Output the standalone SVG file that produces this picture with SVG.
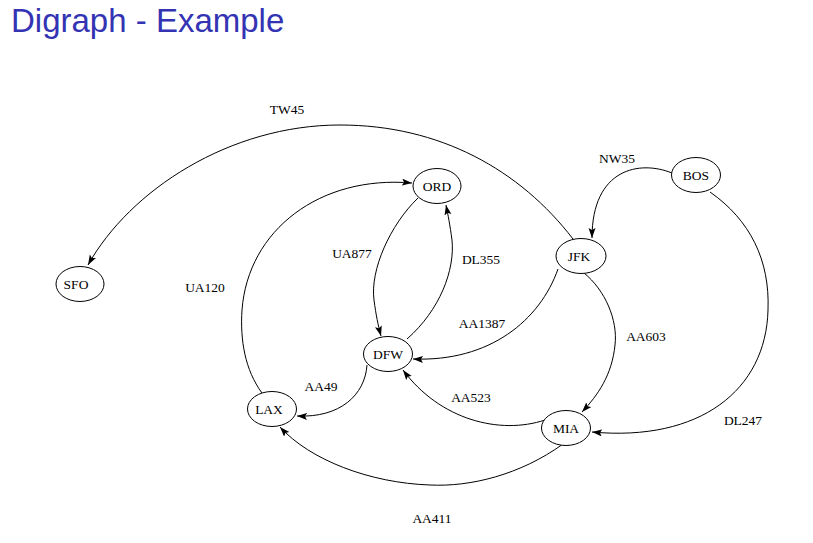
<svg xmlns="http://www.w3.org/2000/svg" width="813" height="543" viewBox="0 0 813 543">
<style>
.node ellipse{fill:#fff;stroke:#000;stroke-width:1}
.lbl{font-family:"Liberation Serif","Times New Roman",serif;font-size:13.5px;fill:#000;text-anchor:middle}
.edge{fill:none;stroke:#000;stroke-width:1;marker-end:url(#arr)}
.title{font-family:"Liberation Sans",Arial,sans-serif;font-size:33px;fill:#3333b3}
</style>
<defs>
<marker id="arr" markerUnits="userSpaceOnUse" markerWidth="11" markerHeight="8" refX="10" refY="3.5" orient="auto">
<path d="M0,0 L10,3.5 L0,7 L2,3.5 z" fill="#000"/>
</marker>
</defs>
<rect width="813" height="543" fill="#fff"/>
<text class="title" x="11" y="32">Digraph - Example</text>
<g id="connectors">
<path id="e-TW45" class="edge" d="M573,239 C520,170 440,125 340,125 C230,125 130,190 88,265"/>
<path id="e-NW35" class="edge" d="M672,173 C640,160 592,168 592,238"/>
<path id="e-DL247" class="edge" d="M710,192 C750,220 770,260 768,310 C766,390 700,442 592,432"/>
<path id="e-AA603" class="edge" d="M584,273 C605,290 618,320 615,345 C612,375 598,395 582,412"/>
<path id="e-AA1387" class="edge" d="M558,269 C540,320 490,362 413,359"/>
<path id="e-AA523" class="edge" d="M545,420 C500,435 440,420 403,370"/>
<path id="e-AA411" class="edge" d="M563,444 C520,475 470,487 430,485 C370,483 310,460 280,427"/>
<path id="e-AA49" class="edge" d="M367,365 C365,395 340,418 297,416"/>
<path id="e-UA120" class="edge" d="M262,393 C245,370 240,340 242,310 C248,230 320,175 412,183"/>
<path id="e-UA877" class="edge" d="M418,198 C390,225 370,270 374,300 C376,315 378,325 381,336"/>
<path id="e-DL355" class="edge" d="M407,339 C440,310 455,270 452,240 C450,225 448,215 446,205"/>
<text class="lbl" x="287" y="114">TW45</text>
<text class="lbl" x="617" y="163">NW35</text>
<text class="lbl" x="743" y="425">DL247</text>
<text class="lbl" x="646" y="341">AA603</text>
<text class="lbl" x="482" y="328">AA1387</text>
<text class="lbl" x="471" y="402">AA523</text>
<text class="lbl" x="432" y="523">AA411</text>
<text class="lbl" x="321" y="391">AA49</text>
<text class="lbl" x="205" y="292">UA120</text>
<text class="lbl" x="352" y="258">UA877</text>
<text class="lbl" x="481" y="264">DL355</text>
</g>
<g id="ORD" class="node"><ellipse cx="437" cy="186" rx="24" ry="17.5"/><text class="lbl" x="437" y="191">ORD</text></g>
<g id="BOS" class="node"><ellipse cx="696" cy="175" rx="24.5" ry="17.5"/><text class="lbl" x="696" y="180">BOS</text></g>
<g id="JFK" class="node"><ellipse cx="581" cy="256" rx="25" ry="17.5"/><text class="lbl" x="579" y="261">JFK</text></g>
<g id="SFO" class="node"><ellipse cx="80" cy="284" rx="24" ry="17.5"/><text class="lbl" x="76" y="289">SFO</text></g>
<g id="DFW" class="node"><ellipse cx="388" cy="354" rx="24.5" ry="17.5"/><text class="lbl" x="388" y="359">DFW</text></g>
<g id="LAX" class="node"><ellipse cx="272" cy="409" rx="24.5" ry="17.5"/><text class="lbl" x="269" y="414">LAX</text></g>
<g id="MIA" class="node"><ellipse cx="566" cy="428" rx="24.5" ry="17.5"/><text class="lbl" x="566" y="433">MIA</text></g>
</svg>
